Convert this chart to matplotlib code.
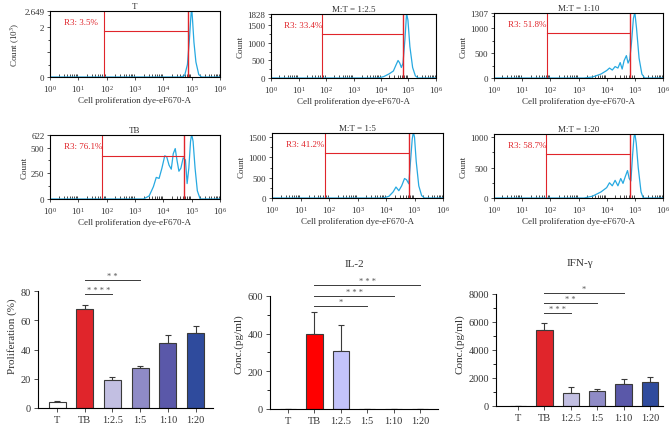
import numpy as np
import matplotlib
matplotlib.use('Agg')
import matplotlib.pyplot as plt
from matplotlib.ticker import NullFormatter, LogLocator, AutoMinorLocator, FixedLocator

plt.rcParams['font.family'] = ['Liberation Serif', 'DejaVu Serif']
plt.rcParams['mathtext.fontset'] = 'stix'
plt.rcParams['axes.linewidth'] = 0.8

TXT = '#333333'
BLUE = '#27a9e1'
RED = '#e0252b'

# ---------------- flow cytometry histograms (log10 intensity, count) ----------------
hist_titles = ['T', 'M:T = 1:2.5', 'M:T = 1:10', 'TB', 'M:T = 1:5', 'M:T = 1:20']
hist_ylabels = ['Count (10$^3$)', 'Count', 'Count', 'Count', 'Count', 'Count']
hist_gates = ['R3: 3.5%', 'R3: 33.4%', 'R3: 51.8%', 'R3: 76.1%', 'R3: 41.2%', 'R3: 58.7%']
hist_ymax = [2.649, 1828, 1307, 622, 1600, 1050]
hist_yticks = [[0, 1, 2, 2.649], [0, 500, 1000, 1500, 1828], [0, 500, 1000, 1307],
               [0, 250, 500, 622], [0, 500, 1000, 1500], [0, 500, 1000]]
hist_yticklabels = [['0', '', '2', '2.649'], ['0', '500', '1000', '1500', '1828'],
                    ['0', '500', '1000', '1307'], ['0', '250', '500', '622'],
                    ['0', '500', '1000', '1500'], ['0', '500', '1000']]
# gate: left edge, right edge (log10), bar height
gate_left = [1.91, 1.84, 1.87, 1.84, 1.87, 1.85]
gate_right = [4.86, 4.80, 4.82, 4.74, 4.80, 4.82]
gate_height = [1.85, 1260, 905, 421, 1110, 720]

curve_x = [
    [0, 4.6, 4.75, 4.85, 4.92, 4.97, 5.0, 5.03, 5.08, 5.15, 5.25, 5.35, 6],
    [0, 3.9, 4.1, 4.3, 4.45, 4.55, 4.62, 4.68, 4.74, 4.8, 4.87, 4.93, 4.98, 5.05, 5.15, 5.25, 5.35, 6],
    [0, 3.2, 3.5, 3.8, 4.0, 4.1, 4.2, 4.3, 4.4, 4.48, 4.55, 4.62, 4.7, 4.76, 4.82, 4.88, 4.95, 5.0,
     5.06, 5.15, 5.25, 5.35, 6],
    [0, 3.3, 3.5, 3.65, 3.75, 3.85, 3.95, 4.05, 4.12, 4.2, 4.28, 4.35, 4.42, 4.48, 4.55, 4.62, 4.7,
     4.78, 4.84, 4.9, 4.96, 5.0, 5.05, 5.12, 5.2, 5.3, 6],
    [0, 3.9, 4.1, 4.25, 4.35, 4.45, 4.55, 4.65, 4.72, 4.8, 4.86, 4.92, 4.96, 5.0, 5.06, 5.15, 5.25, 5.35, 6],
    [0, 3.2, 3.5, 3.8, 4.0, 4.1, 4.2, 4.3, 4.4, 4.5, 4.58, 4.66, 4.74, 4.8, 4.86, 4.92, 4.97, 5.0,
     5.05, 5.12, 5.22, 5.3, 6],
]
curve_y = [
    [0, 0, 0.05, 0.5, 1.5, 2.4, 2.8, 2.3, 1.4, 0.6, 0.1, 0, 0],
    [0, 0, 40, 120, 200, 380, 500, 430, 300, 420, 1100, 1850, 1650, 900, 300, 60, 0, 0],
    [0, 0, 20, 80, 150, 200, 160, 230, 200, 310, 180, 350, 450, 300, 380, 700, 1200, 1320,
     1000, 400, 80, 0, 0],
    [0, 0, 30, 120, 210, 200, 300, 420, 410, 330, 290, 440, 490, 380, 270, 300, 400,
     380, 150, 300, 560, 630, 560, 300, 80, 0, 0],
    [0, 0, 40, 150, 270, 180, 300, 480, 450, 350, 900, 1450, 1620, 1500, 900, 300, 60, 0, 0],
    [0, 0, 30, 100, 170, 250, 200, 290, 200, 320, 240, 350, 450, 320, 280, 700, 1000, 1060,
     900, 500, 100, 0, 0],
]

# ---------------- bar charts ----------------
groups = ['T', 'TB', '1:2.5', '1:5', '1:10', '1:20']
prolif = [4, 68, 19, 27.5, 44.5, 51.5]
prolif_err = [0.5, 2.5, 2.5, 1.5, 5.5, 4.5]
il2 = [0, 398, 305, 2, 0, 0]
il2_err = [0, 118, 140, 0, 0, 0]
ifng = [0, 5400, 950, 1050, 1580, 1720]
ifng_err = [0, 550, 420, 170, 380, 370]

colors_a = ['#ffffff', RED, '#c2bfe2', '#8f8bc6', '#5a58a9', '#2f4b9d']
colors_b = ['#ffffff', '#ff0000', '#c3c3fa', '#ffffff', '#ffffff', '#ffffff']
colors_c = ['#ffffff', RED, '#c2bfe2', '#8f8bc6', '#5a58a9', '#2f4b9d']

# significance: (from group, to group, height, label)
sig_a = [(1, 3, 88, '* *'), (1, 2, 78, '* * * *')]
sig_b = [(1, 5, 658, '* * *'), (1, 4, 600, '* * *'), (1, 3, 547, '*')]
sig_c = [(1, 4, 8070, '*'), (1, 3, 7360, '* *'), (1, 2, 6640, '* * *')]

W, H = 669, 427
fig = plt.figure(figsize=(W / 100, H / 100), dpi=100)


def px_axes(l, t, r, b):
    return fig.add_axes([l / W, 1 - b / H, (r - l) / W, (b - t) / H])


hist_boxes = [(50, 12, 220, 78), (271, 15, 436, 79), (494, 14, 663, 79),
              (50, 136, 220, 200), (272, 134, 443, 199), (494, 135, 663, 199)]

for i, box in enumerate(hist_boxes):
    ax = px_axes(*box)
    ax.set_xscale('log')
    ax.plot(10 ** np.array(curve_x[i]), curve_y[i], color=BLUE, lw=0.9, clip_on=True)
    gl, gr = 10 ** gate_left[i], 10 ** gate_right[i]
    ax.axvline(gl, color=RED, lw=0.8)
    ax.axvline(gr, color=RED, lw=1.0)
    ax.plot([gl, gr], [gate_height[i], gate_height[i]], color=RED, lw=0.8)
    ax.text(0.08, 0.83, hist_gates[i], transform=ax.transAxes, color=RED, fontsize=6.5,
            va='center', ha='left')
    ax.set_xlim(1, 1e6)
    ax.set_ylim(0, hist_ymax[i])
    ax.set_yticks(hist_yticks[i])
    ax.set_yticklabels(hist_yticklabels[i])
    ax.yaxis.set_minor_locator(AutoMinorLocator(2))
    ax.xaxis.set_major_locator(LogLocator(base=10, numticks=10))
    ax.xaxis.set_minor_locator(LogLocator(base=10, subs=np.arange(2, 10), numticks=10))
    ax.xaxis.set_minor_formatter(NullFormatter())
    ax.tick_params(axis='x', which='minor', direction='in', length=2, width=0.5)
    ax.tick_params(axis='both', which='major', labelsize=6.5, length=2.5, width=0.6,
                   colors=TXT, pad=1.5)
    ax.tick_params(axis='y', which='minor', length=1.5, width=0.5)
    ax.set_title(hist_titles[i], fontsize=6.5, pad=2, color=TXT)
    ax.set_ylabel(hist_ylabels[i], fontsize=6.5, color=TXT, labelpad=2)
    ax.set_xlabel('Cell proliferation dye-eF670-A', fontsize=6.5, color=TXT, labelpad=2)


def bar_panel(box, values, errs, colors, ylim, ytop, yticks, xlim, ylabel, sigs,
              minors=None):
    ax = px_axes(*box)
    x = np.arange(len(groups))
    ax.bar(x, values, width=0.62, color=colors, edgecolor='#3a3a3a', linewidth=0.8, zorder=2)
    up = [e if e > 0 else 0 for e in errs]
    ax.errorbar(x, values, yerr=[np.zeros(len(x)), up], fmt='none', ecolor='#3a3a3a',
                elinewidth=0.8, capsize=2.5, capthick=0.8, zorder=1)
    ax.set_xlim(*xlim)
    ax.set_ylim(0, ylim)
    ax.set_yticks(yticks)
    if minors:
        ax.yaxis.set_minor_locator(FixedLocator(minors))
        ax.tick_params(axis='y', which='minor', length=2, width=0.6)
    ax.spines['left'].set_bounds(0, ytop)
    ax.spines['top'].set_visible(False)
    ax.spines['right'].set_visible(False)
    ax.set_xticks(x)
    ax.set_xticklabels(groups)
    ax.tick_params(axis='both', which='major', labelsize=7.5, length=3, width=0.6,
                   colors=TXT, pad=2)
    ax.set_ylabel(ylabel, fontsize=8, color=TXT, labelpad=3)
    for a, b, h, lab in sigs:
        ax.plot([a, b], [h, h], color='#3a3a3a', lw=0.7, clip_on=False)
        ax.text((a + b) / 2, h, lab, ha='center', va='bottom', fontsize=6,
                color='#555555')
    return ax


bar_panel((38, 263, 213, 409), prolif, prolif_err, colors_a, 100, 80, [0, 20, 40, 60, 80],
          (-0.69, 5.63), 'Proliferation (%)', sig_a)
ax8 = bar_panel((270, 278, 438, 410), il2, il2_err, colors_b, 700, 600, [0, 200, 400, 600],
                (-0.68, 5.68), 'Conc.(pg/ml)', sig_b, minors=[100, 300, 500])
ax8.text(0.5, 1.0 + 9 / 132, 'IL-2', transform=ax8.transAxes, ha='center', va='bottom',
         fontsize=8, color=TXT)
ax9 = bar_panel((496, 281, 663, 407), ifng, ifng_err, colors_c, 9000, 8000,
                [0, 2000, 4000, 6000, 8000], (-0.83, 5.49), 'Conc.(pg/ml)', sig_c,
                minors=[1000, 3000, 5000, 7000])
ax9.text(0.5, 1.0 + 13 / 126, 'IFN-γ', transform=ax9.transAxes, ha='center', va='bottom',
         fontsize=8, color=TXT)

fig.savefig('out.png', dpi=100)
